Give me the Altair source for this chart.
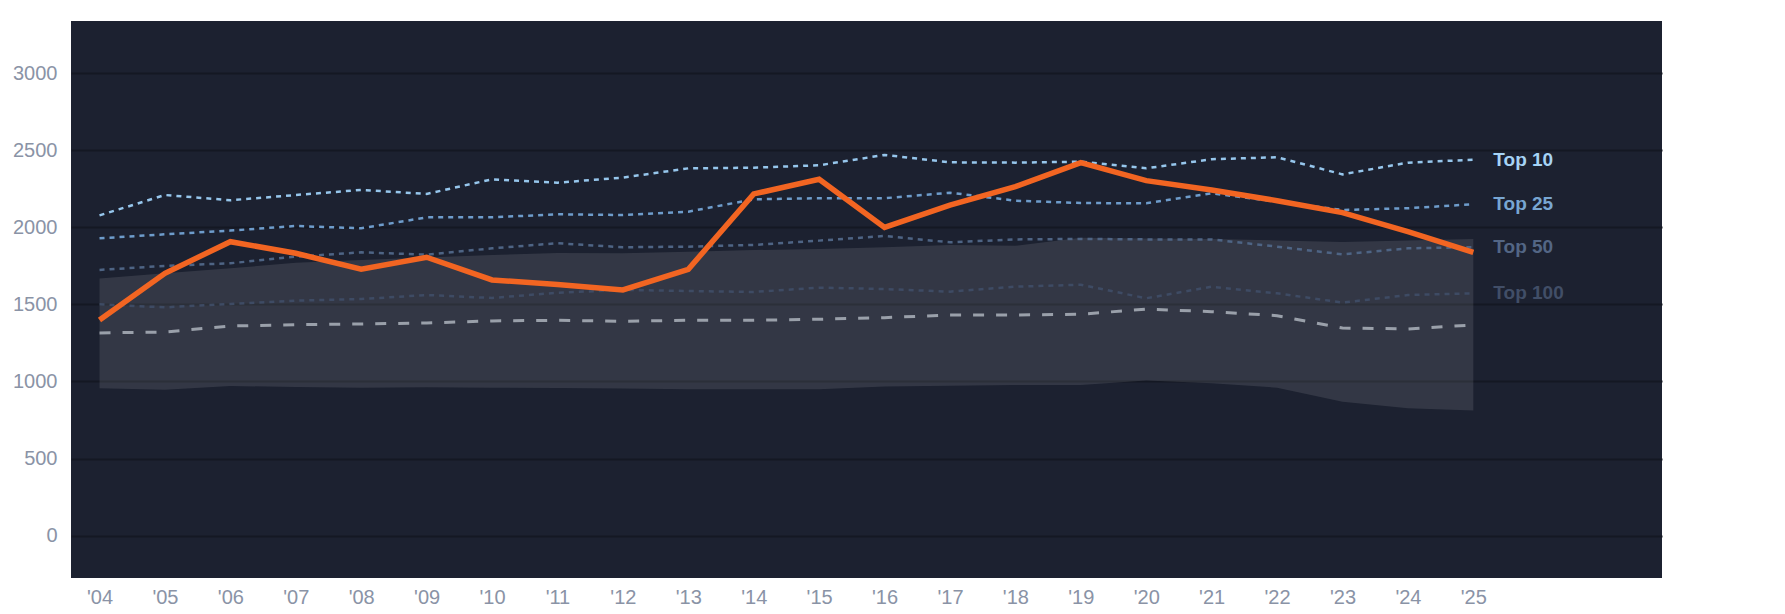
import altair as alt
import pandas as pd

years = list(range(2004, 2026))
selected = [1399, 1702, 1907, 1832, 1728, 1806, 1659, 1630, 1594, 1728, 2217,
            2312, 2000, 2145, 2265, 2420, 2303, 2243, 2173, 2096, 1972, 1838]
top10 = [2078, 2210, 2176, 2210, 2243, 2217, 2312, 2290, 2323, 2383, 2387,
         2403, 2470, 2422, 2420, 2426, 2383, 2442, 2455, 2344, 2420, 2439]
top25 = [1929, 1955, 1979, 2009, 1994, 2065, 2065, 2085, 2080, 2102, 2182,
         2189, 2189, 2225, 2173, 2158, 2156, 2221, 2167, 2113, 2124, 2150]
top50 = [1724, 1750, 1767, 1810, 1838, 1823, 1864, 1897, 1871, 1875, 1886,
         1914, 1944, 1903, 1922, 1925, 1922, 1922, 1875, 1825, 1864, 1871]
top100 = [1501, 1481, 1503, 1525, 1535, 1561, 1542, 1576, 1594, 1587, 1581,
          1609, 1600, 1583, 1615, 1628, 1540, 1615, 1572, 1512, 1561, 1572]
median = [1315, 1321, 1360, 1369, 1373, 1380, 1393, 1397, 1391, 1397, 1397,
          1404, 1414, 1432, 1432, 1436, 1470, 1453, 1427, 1347, 1341, 1367]
band_low = [956, 947, 971, 964, 960, 962, 960, 958, 954, 949, 949,
            949, 967, 973, 977, 977, 1006, 988, 960, 869, 826, 811]
band_high = [1669, 1702, 1734, 1771, 1788, 1804, 1821, 1834, 1832, 1842, 1853,
             1860, 1871, 1886, 1881, 1933, 1928, 1925, 1915, 1905, 1915, 1925]

label_names = ["Top 10", "Top 25", "Top 50", "Top 100"]
label_colors = ["#a6d3f5", "#78a6d2", "#536685", "#414e67"]
y_ticks = [0, 500, 1000, 1500, 2000, 2500, 3000]

df = pd.DataFrame({
    "year": years, "selected": selected, "top10": top10, "top25": top25,
    "top50": top50, "top100": top100, "median": median,
    "low": band_low, "high": band_high,
})
labels_df = pd.DataFrame({
    "year": [years[-1]] * 4,
    "value": [top10[-1], top25[-1], top50[-1], top100[-1]],
    "name": label_names,
})

FONT = "Liberation Sans"
x_enc = alt.X(
    "year:Q",
    scale=alt.Scale(domain=[2003.564, 2027.884], nice=False, zero=False),
    axis=alt.Axis(
        values=years, title=None, grid=False, domain=False, ticks=False,
        tickSize=0, labelPadding=9, labelFontSize=20, labelColor="#8a93a6",
        labelFont=FONT, labelExpr="\"'\" + substring(toString(datum.value), 2, 4)",
    ),
)
y_scale = alt.Scale(domain=[-275, 3339], nice=False, zero=False)
y_axis = alt.Axis(
    values=y_ticks, title=None, grid=True, gridColor="#141823", gridWidth=2,
    domain=False, ticks=False, tickSize=0, labelPadding=14, labelFontSize=20,
    labelColor="#8a93a6", labelFont=FONT, format="d",
)

base = alt.Chart(df)

band = base.mark_area(color="#ffffff", opacity=0.1).encode(
    x=x_enc, y=alt.Y("low:Q", scale=y_scale, axis=y_axis), y2="high:Q"
)


def dline(field, color, dash, width):
    return base.mark_line(color=color, strokeDash=dash, strokeWidth=width).encode(
        x=alt.X("year:Q"), y=alt.Y(f"{field}:Q")
    )


med_line = dline("median", "#9aa0aa", [11, 12], 3)
l100 = dline("top100", "#3e4b64", [5, 5], 2.5)
l50 = dline("top50", "#4e6484", [5, 5], 2.5)
l25 = dline("top25", "#6e9ccb", [5, 5], 2.5)
l10 = dline("top10", "#96c6ec", [5, 5], 2.5)

sel = base.mark_line(color="#f26522", strokeWidth=5.5).encode(
    x=alt.X("year:Q"), y=alt.Y("selected:Q")
)

lab = alt.Chart(labels_df).mark_text(
    align="left", baseline="middle", dx=20, fontSize=19, fontWeight="bold", font=FONT
).encode(
    x=alt.X("year:Q"), y=alt.Y("value:Q"), text="name:N",
    color=alt.Color("name:N", scale=alt.Scale(domain=label_names, range=label_colors),
                    legend=None),
)

chart = alt.layer(band, med_line, l100, l50, l25, l10, sel, lab).properties(
    width=1591, height=557,
    autosize=alt.AutoSizeParams(type="none"),
    padding={"left": 63, "top": 13, "right": 110, "bottom": 30},
    background="#ffffff",
).configure_view(fill="#1c2130", strokeWidth=0)

chart.save("out.html", embed_options={"renderer": "svg", "actions": False})
